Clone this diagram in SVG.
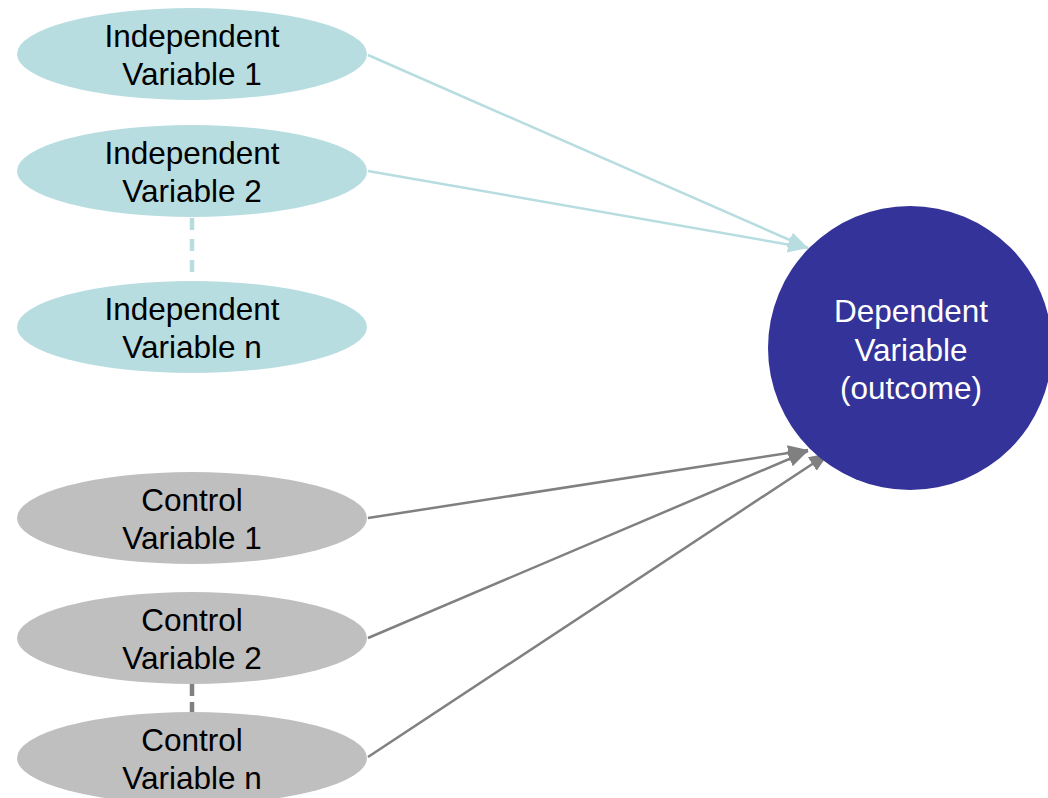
<svg xmlns="http://www.w3.org/2000/svg" width="1048" height="798" viewBox="0 0 1048 798">
<defs>
<marker id="ab" viewBox="0 0 20 16" refX="20" refY="8" markerWidth="20" markerHeight="16" markerUnits="userSpaceOnUse" orient="auto"><path d="M0,0 L20,8 L0,16 z" fill="#B7DDE1"/></marker>
<marker id="ag" viewBox="0 0 20 16" refX="20" refY="8" markerWidth="20" markerHeight="16" markerUnits="userSpaceOnUse" orient="auto"><path d="M0,0 L20,8 L0,16 z" fill="#808080"/></marker>
</defs>
<style>
.iv{fill:#B7DDE1}
.cv{fill:#BFBFBF}
.t{font-family:"Liberation Sans",Arial,sans-serif;font-size:31.5px;fill:#000;text-anchor:middle}
.w{fill:#fff}
.lb{stroke:#B7DDE1;stroke-width:2.5;fill:none}
.lg{stroke:#808080;stroke-width:2.5;fill:none}
.dash{stroke-width:4.5}
</style>
<rect width="1048" height="798" fill="#fff"/>
<g id="connectors">
<line class="lb dash" x1="192" y1="218" x2="192" y2="281" stroke-dasharray="12,9"/>
<line class="lg dash" x1="192" y1="684" x2="192" y2="712" stroke-dasharray="12,6"/>
<line class="lb" x1="368" y1="55" x2="808" y2="248" marker-end="url(#ab)"/>
<line class="lb" x1="368" y1="171" x2="808" y2="248" marker-end="url(#ab)"/>
<line class="lg" x1="368" y1="518" x2="808" y2="450" marker-end="url(#ag)"/>
<line class="lg" x1="368" y1="638" x2="808" y2="451" marker-end="url(#ag)"/>
<line class="lg" x1="368" y1="757" x2="829" y2="453" marker-end="url(#ag)"/>
</g>
<g id="iv1"><ellipse class="iv" cx="192" cy="54" rx="175" ry="46"/><text class="t" x="192" y="47">Independent</text><text class="t" x="192" y="85">Variable 1</text></g>
<g id="iv2"><ellipse class="iv" cx="192" cy="171" rx="175" ry="46"/><text class="t" x="192" y="164">Independent</text><text class="t" x="192" y="202">Variable 2</text></g>
<g id="ivn"><ellipse class="iv" cx="192" cy="327" rx="175" ry="46"/><text class="t" x="192" y="320">Independent</text><text class="t" x="192" y="358">Variable n</text></g>
<g id="cv1"><ellipse class="cv" cx="192" cy="518" rx="175" ry="46"/><text class="t" x="192" y="511">Control</text><text class="t" x="192" y="549">Variable 1</text></g>
<g id="cv2"><ellipse class="cv" cx="192" cy="638" rx="175" ry="46"/><text class="t" x="192" y="631">Control</text><text class="t" x="192" y="669">Variable 2</text></g>
<g id="cvn"><ellipse class="cv" cx="192" cy="758" rx="175" ry="46"/><text class="t" x="192" y="751">Control</text><text class="t" x="192" y="789">Variable n</text></g>
<g id="dv"><circle cx="910" cy="348" r="142" fill="#333399"/><text class="t w" x="911" y="322">Dependent</text><text class="t w" x="911" y="361">Variable</text><text class="t w" x="911" y="399">(outcome)</text></g>
</svg>
